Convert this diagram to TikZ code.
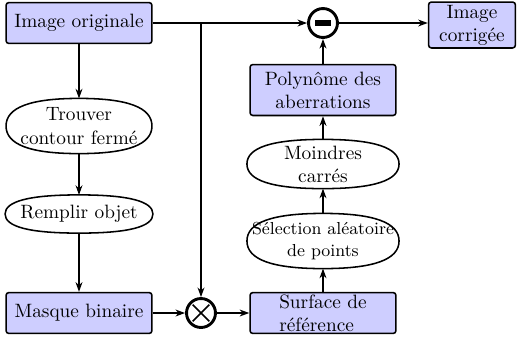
\documentclass[tikz,border=0pt]{standalone}
\usepackage{fontspec}
\usetikzlibrary{arrows.meta,calc}

\tikzset{every picture/.style={line width=0.6pt}}
\tikzset{
  blockbox/.style={draw, line width=0.8pt, fill={rgb,255:red,206;green,206;blue,255}, rounded corners=1.5pt, align=center, inner sep=1pt},
  ovalbox/.style={inner sep=0pt, align=center},
  oval/.style={draw, line width=0.8pt},
  opcircle/.style={draw, circle, line width=1.5pt, inner sep=0pt, minimum size=15pt},
  flow/.style={-{Stealth[length=5pt,width=3.6pt]}},
}
% full oval round a node
\newcommand{\ovalround}[1]{%
  \draw [oval] (#1.west)
    .. controls ($(#1.west)!0.67!(#1.north west)$) and ($(#1.north)!0.67!(#1.north west)$) .. (#1.north)
    .. controls ($(#1.north)!0.67!(#1.north east)$) and ($(#1.east)!0.67!(#1.north east)$) .. (#1.east)
    .. controls ($(#1.east)!0.67!(#1.south east)$) and ($(#1.south)!0.67!(#1.south east)$) .. (#1.south)
    .. controls ($(#1.south)!0.67!(#1.south west)$) and ($(#1.west)!0.67!(#1.south west)$) .. (#1.west) -- cycle;}

\begin{document}
\begin{tikzpicture}[x=0.518pt,y=0.518pt,yscale=-1,xscale=1]
\useasboundingbox (0,0) rectangle (520,337);

% left column
\node [blockbox, minimum width=75.6pt, minimum height=21.2pt] (orig) at (79,23) {Image originale};
\node [ovalbox, minimum width=75pt, minimum height=28pt] (trouver) at (79,126) {Trouver\\contour fermé};
\ovalround{trouver}
\node [ovalbox, minimum width=76pt, minimum height=19.2pt] (remplir) at (79,214) {Remplir objet};
\ovalround{remplir}
\node [blockbox, minimum width=75.6pt, minimum height=21.2pt] (masque) at (79,313) {Masque binaire};

% operators
\node [opcircle] (otimes) at (201,313) {};
\draw [line width=0.8pt] (otimes.center) +(-4.3pt,-4.3pt) -- +(4.3pt,4.3pt) (otimes.center) +(-4.3pt,4.3pt) -- +(4.3pt,-4.3pt);
\node [opcircle] (minus) at (323,23) {\rule[-1.3pt]{7.8pt}{2.6pt}};

% right column
\node [blockbox, minimum width=75.6pt, minimum height=21.2pt, align=left] (surface) at (323,313) {Surface de\\référence};
\node [ovalbox, minimum width=78.2pt, minimum height=28pt, font=\small] (selection) at (323,241) {Sélection aléatoire\\de points};
\ovalround{selection}
\node [ovalbox, minimum width=78.2pt, minimum height=24.9pt] (moindres) at (323,164) {Moindres\\carrés};
\ovalround{moindres}
\node [blockbox, minimum width=75.6pt, minimum height=26.4pt] (poly) at (323,90) {Polynôme des\\aberrations};
\node [blockbox, minimum width=45pt, minimum height=23.8pt] (corr) at (472,25) {Image\\corrigée};

% connectors
\coordinate (branch) at (orig -| otimes);
\draw [flow] (orig) -- (minus);
\draw [flow] (branch) -- (otimes);
\draw [flow] (orig) -- (trouver);
\draw [flow] (trouver) -- (remplir);
\draw [flow] (remplir) -- (masque);
\draw [flow] (masque) -- (otimes);
\draw [flow] (otimes) -- (surface);
\draw [flow] (surface) -- (selection);
\draw [flow] (selection) -- (moindres);
\draw [flow] (moindres) -- (poly);
\draw [flow] (poly) -- (minus);
\draw [flow] (minus) -- (minus -| corr.west);

\end{tikzpicture}
\end{document}
